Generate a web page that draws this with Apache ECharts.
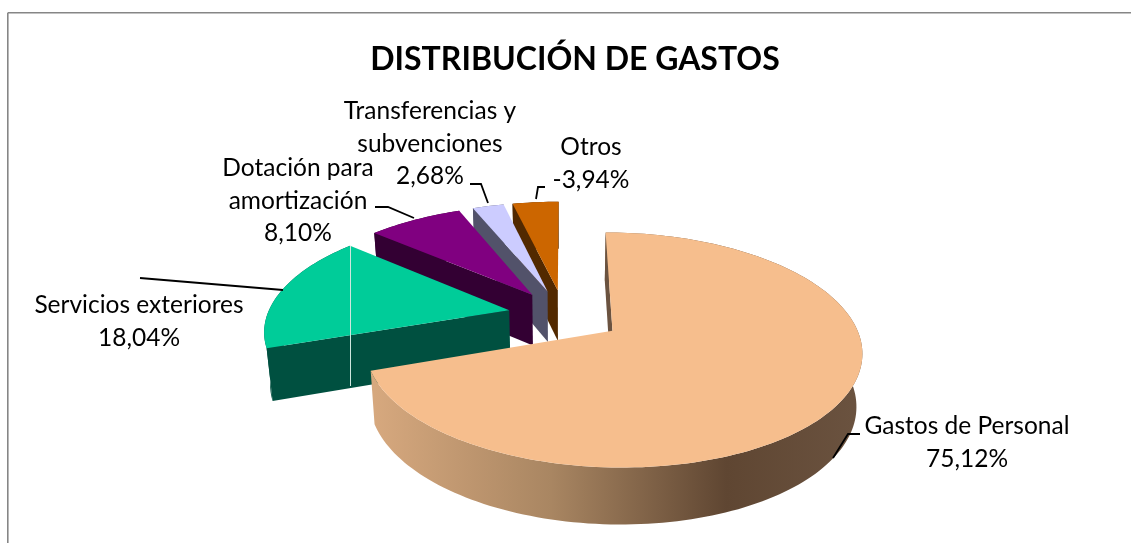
<!DOCTYPE html>
<html>
<head>
<meta charset="utf-8">
<title>Distribución de gastos</title>
<style>
html, body { margin: 0; padding: 0; background: #fff; }
#chart { width: 1131px; height: 543px; }
</style>
<script src="https://cdn.jsdelivr.net/npm/echarts@6/dist/echarts.min.js"></script>
</head>
<body>
<div id="chart"></div>
<script>
// datos
var titulo = 'DISTRIBUCIÓN DE GASTOS'
var categories = ['Gastos de Personal', 'Servicios exteriores', 'Dotación para\namortización', 'Transferencias y\nsubvenciones', 'Otros']
var values = [75.12, 18.04, 8.10, 2.68, -3.94]

// colores
var topColors = ['#f6be8d', '#00cc99', '#800080', '#ccccff', '#cc6600']
var faceColors = ['#6b5340', '#005040', '#330033', '#52526a', '#522900']

// posicion de las etiquetas y sus lineas guia
var labelPos = [[967, 410], [139, 289], [298, 152], [430, 95], [591, 131]]
var leaderLines = [
	[[860, 434], [848, 434], [833, 458]],
	[[140, 278], [283, 290]],
	[[375, 207], [388, 207], [414, 218]],
	[[470, 184], [481, 184], [488, 203]],
	[[545, 187], [538, 187], [536, 199]]
]

// proyeccion del pastel en perspectiva
var view = { cx: 564, cy: 315, r: 242, k: 110.4, p: 0.162, depth: 51.5, bottomScale: 0.98, start: 0 }
var sliceExplode = [0.24, 0.232, 0.232, 0.232, 0.232]
var sliceRadius = [0.99, 1, 1, 1, 1]

function project(x, y, low) {
	var w = 1 - view.p * y
	var sx = view.r * x / w
	var sy = view.k * y / w
	if (low) {
		sx *= view.bottomScale
		sy += view.depth / Math.sqrt(w)
	}
	return [view.cx + sx, view.cy + sy]
}

function ground(deg, radius, bisect, explode) {
	var a = deg * Math.PI / 180
	var b = bisect * Math.PI / 180
	return [
		radius * Math.sin(a) + explode * Math.sin(b),
		-radius * Math.cos(a) - explode * Math.cos(b)
	]
}

function arcPoints(from, to, bisect, radius, explode, low) {
	var pts = []
	var steps = Math.max(6, Math.ceil((to - from) / 1.5))
	for (var i = 0; i <= steps; i++) {
		var g = ground(from + (to - from) * i / steps, radius, bisect, explode)
		pts.push(project(g[0], g[1], low))
	}
	return pts
}

var total = values.reduce(function (s, v) { return s + Math.abs(v) }, 0)

function renderSlice(params, api) {
	var i = params.dataIndex
	var from = api.value(1)
	var to = from + Math.abs(api.value(0)) / total * 360
	var mid = (from + to) / 2
	var c = ground(0, 0, mid, sliceExplode[i])
	var top = arcPoints(from, to, mid, sliceRadius[i], sliceExplode[i], false)
	var bottom = arcPoints(from, to, mid, sliceRadius[i], sliceExplode[i], true)

	// orden: primero lo de atras
	var z = values.length - i
	var wallFill = faceColors[i]
	if (i === 0) {
		wallFill = new echarts.graphic.LinearGradient(375, 0, 863, 0, [
			{ offset: 0, color: '#d6a87e' },
			{ offset: 0.36, color: '#a98662' },
			{ offset: 0.72, color: '#5f4632' },
			{ offset: 1, color: '#6b5340' }
		], true)
	}

	return {
		type: 'group',
		children: [
			{
				type: 'polygon',
				z2: z * 10,
				shape: { points: top.concat(bottom.slice().reverse()) },
				style: { fill: wallFill }
			},
			{
				type: 'polygon',
				z2: z * 10 + 1,
				shape: { points: [project(c[0], c[1], false), top[0], bottom[0], project(c[0], c[1], true)] },
				style: { fill: faceColors[i] }
			},
			{
				type: 'polygon',
				z2: z * 10 + 2,
				shape: { points: [project(c[0], c[1], false)].concat(top) },
				style: { fill: topColors[i] }
			}
		]
	}
}

function formatPct(v) {
	return v.toFixed(2).replace('.', ',') + '%'
}

var seriesData = []
var acc = view.start
values.forEach(function (v, i) {
	seriesData.push({ name: categories[i], value: [v, acc] })
	acc += Math.abs(v) / total * 360
})

var graphics = [
	{ type: 'line', shape: { x1: 7.8, y1: 12.8, x2: 1131, y2: 12.8 }, style: { stroke: '#868686', lineWidth: 1.6 } },
	{ type: 'line', shape: { x1: 7.8, y1: 12.8, x2: 7.8, y2: 543 }, style: { stroke: '#868686', lineWidth: 1.6 } },
	// linea clara que cruza el sector de servicios
	{ type: 'line', z: 20, shape: { x1: 350.5, y1: 246, x2: 350.5, y2: 386 }, style: { stroke: '#cfe6de', lineWidth: 1 } }
]
leaderLines.forEach(function (pts) {
	graphics.push({
		type: 'polyline',
		z: 20,
		shape: { points: pts },
		style: { stroke: '#000', lineWidth: 1.8, fill: null }
	})
})
categories.forEach(function (name, i) {
	graphics.push({
		type: 'text',
		z: 20,
		x: labelPos[i][0],
		y: labelPos[i][1],
		style: {
			text: name + '\n' + formatPct(values[i]),
			fill: '#000',
			font: '24.5px Lato',
			lineHeight: 32.5,
			align: 'center',
			verticalAlign: 'top'
		}
	})
})

var myChart = echarts.init(document.getElementById('chart'))
myChart.setOption({
	animation: false,
	backgroundColor: '#fff',
	title: {
		text: titulo,
		left: 570,
		top: 39,
		textAlign: 'center',
		textStyle: { fontFamily: 'Lato', fontSize: 32, fontWeight: 'bold', color: '#000' }
	},
	graphic: graphics,
	series: [{
		type: 'custom',
		coordinateSystem: 'none',
		renderItem: renderSlice,
		encode: { value: 0 },
		data: seriesData
	}]
})
</script>
</body>
</html>
